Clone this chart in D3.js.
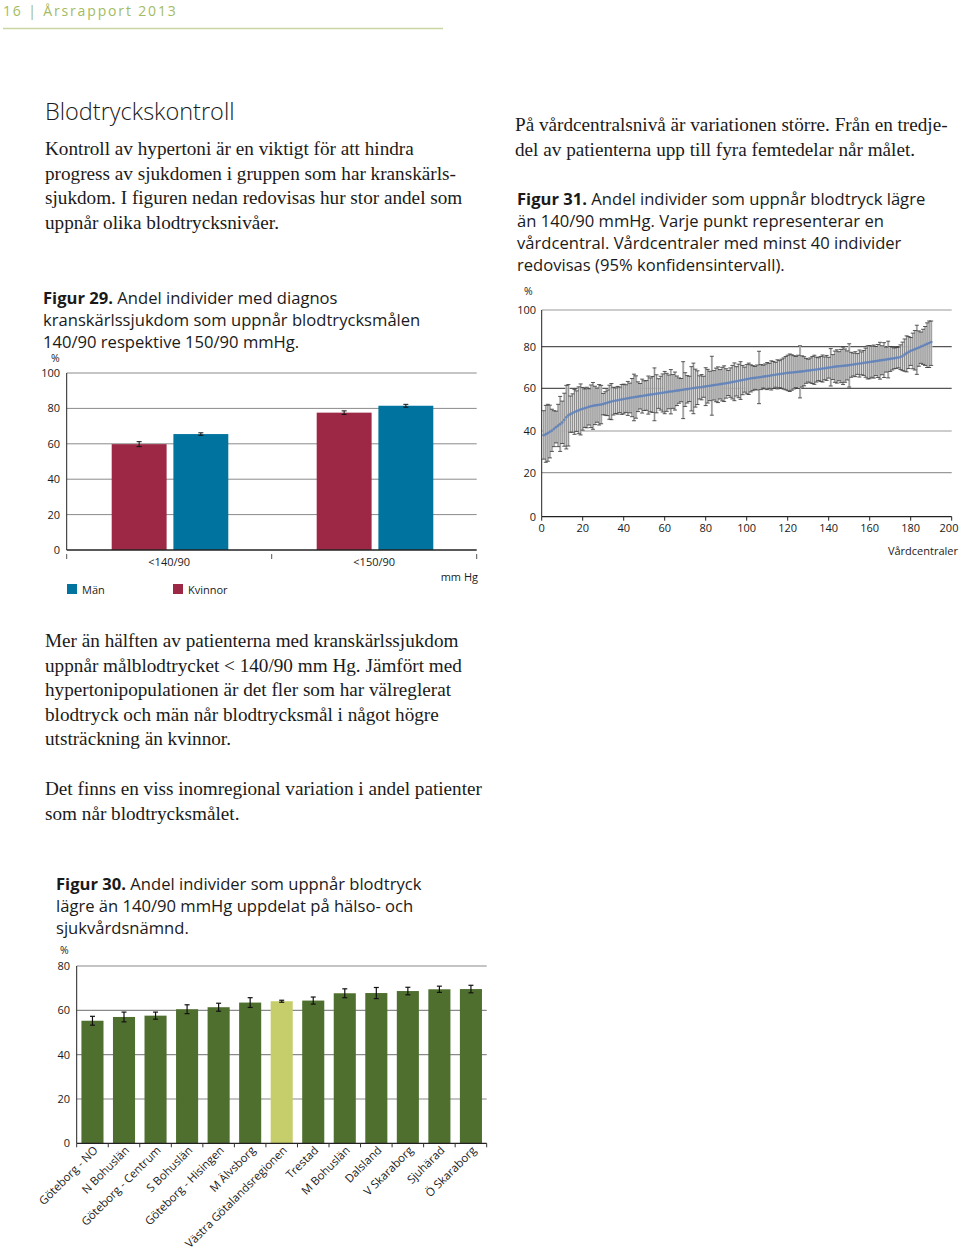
<!DOCTYPE html>
<html><head><meta charset="utf-8">
<script src="https://cdn.jsdelivr.net/npm/d3@7"></script>
<style>
body{margin:0;background:#fff}
svg{display:block}
.serif{font-family:"Liberation Serif","DejaVu Serif",serif;font-size:19.2px;fill:#1a1a1a}
.sans{font-family:"Open Sans","Noto Sans",sans-serif;fill:#1a1a1a}
</style></head><body>
<svg id="c" width="960" height="1249"></svg>
<script>
// ---------- DATA ----------
const fig29Groups = ["<140/90", "<150/90"];
const fig29Series = ["Kvinnor", "Män"];
const fig29Kvinnor = [59.8, 77.6];
const fig29KvinnorErr = [1.4, 1.0];
const fig29Man = [65.5, 81.5];
const fig29ManErr = [0.7, 0.8];
const fig29Ticks = [0, 20, 40, 60, 80, 100];

const fig30Regions = ["Göteborg - NO", "N Bohuslän", "Göteborg - Centrum", "S Bohuslän", "Göteborg - Hisingen", "M Älvsborg", "Västra Götalandsregionen", "Trestad", "M Bohuslän", "Dalsland", "V Skaraborg", "Sjuhärad", "Ö Skaraborg"];
const fig30Values = [55.3, 57.0, 57.6, 60.5, 61.4, 63.5, 64.1, 64.4, 67.7, 67.8, 68.7, 69.5, 69.6];
const fig30Err = [2.0, 2.2, 1.6, 2.0, 1.8, 2.2, 0.45, 1.6, 2.0, 2.5, 1.7, 1.4, 1.7];
const fig30Highlight = "Västra Götalandsregionen";
const fig30Ticks = [0, 20, 40, 60, 80];

const fig31Value = [
38.0,38.5,39.0,39.6,40.2,41.0,41.8,42.5,43.2,44.0,
45.2,46.4,47.3,47.9,48.4,48.9,49.3,49.7,50.1,50.4,
50.7,51.0,51.3,51.6,51.8,52.0,52.1,52.3,52.4,52.6,
52.9,53.2,53.5,53.8,54.0,54.2,54.4,54.6,54.8,55.0,
55.2,55.3,55.5,55.7,55.8,56.0,56.1,56.3,56.4,56.6,
56.7,56.9,57.0,57.2,57.3,57.5,57.6,57.8,57.9,58.1,
58.2,58.4,58.5,58.6,58.8,58.9,59.0,59.2,59.3,59.5,
59.6,59.8,59.9,60.1,60.2,60.4,60.5,60.6,60.8,60.9,
61.1,61.2,61.4,61.5,61.7,61.8,62.0,62.1,62.3,62.4,
62.6,62.8,63.0,63.2,63.4,63.6,63.8,64.0,64.2,64.4,
64.6,64.8,64.9,65.0,65.2,65.3,65.4,65.6,65.7,65.9,
66.0,66.2,66.4,66.5,66.7,66.8,67.0,67.1,67.3,67.4,
67.5,67.6,67.7,67.8,67.9,68.0,68.1,68.2,68.4,68.5,
68.6,68.8,68.9,69.0,69.2,69.3,69.5,69.6,69.8,69.9,
70.1,70.2,70.4,70.5,70.6,70.7,70.8,70.9,71.0,71.1,
71.3,71.4,71.6,71.7,71.9,72.0,72.2,72.3,72.5,72.6,
72.8,72.9,73.1,73.2,73.4,73.5,73.7,73.8,74.0,74.1,
74.3,74.4,74.6,74.8,75.0,75.5,76.2,76.9,77.5,78.0,
78.4,78.8,79.2,79.6,80.0,80.5,81.0,81.5,82.0,82.5];
const fig31Margin = [
11.5,13.5,13.5,12.5,10,8.5,7.5,10,13,10,
12.5,15,14.5,8.5,9,10.5,9.5,11,12,10,
9,9.5,8.5,10,11,9,8,9.5,9,5,
5.5,6,8,8.5,6.5,6,6.5,6,7,7,
6.5,8,7,9,11,10,7,6,8,7,
7,9,8,8.5,12.5,9,7,8,9,10,
9,8,10.5,8,9,7,6,5.5,13.5,8,
6.5,6,10.5,12,9,8,5.5,6,5,9,
8,7,14,7,8,8.5,7,8,8.5,7,
6,7,8,9,7,8,9,7,6,7,
7.5,6.5,6,5.5,6,12.5,6,5.5,6,6.5,
6,7,6.5,6,7,6.5,7,7.5,8,8.5,
9,8.5,8,7.5,8,12.5,7.5,7,6,5.5,
6,6.5,7,6,5.5,6,6.5,5.5,6,5,
9,6,7.5,8,7,8,9,8,7,10.5,
6,5.5,6,5,6.5,5.5,6,7,8,8,
7.5,8,7,8,9,7,8.5,6,9,6,
5.5,5,5,5,6,7,8,9,8,7,
9,10,12.5,9,8,9,10,11.5,12,11.5];
const fig31YTicks = [0, 20, 40, 60, 80, 100];
const fig31XTicks = [0, 20, 40, 60, 80, 100, 120, 140, 160, 180, 200];

// ---------- COLORS ----------
const RED = "#9c2846", BLUE = "#00739f", GREEN = "#4f6f2f", LIGHT = "#c6ce6b";

const svg = d3.select("#c");
svg.append("rect").attr("width", 960).attr("height", 1249).attr("fill", "#fff");

// ---------- TEXT ----------
function lines(cls, x, y0, lh, arr, size) {
  const t = svg.append("g");
  arr.forEach((s, i) => {
    const el = t.append("text").attr("class", cls).attr("x", x).attr("y", y0 + i * lh);
    if (size) el.style("font-size", size + "px");
    if (Array.isArray(s)) {
      el.append("tspan").style("font-weight", "bold").text(s[0]);
      el.append("tspan").text(s[1]);
    } else el.text(s);
  });
}
// header
svg.append("text").attr("x", 3).attr("y", 16).attr("class", "sans")
  .style("font-size", "14px").style("letter-spacing", "1.85px").style("fill", "#a3bb62")
  .text("16 | Årsrapport 2013");
svg.append("line").attr("x1", 3).attr("x2", 443).attr("y1", 28.5).attr("y2", 28.5)
  .attr("stroke", "#c9d6a0").attr("stroke-width", 1.5);

svg.append("text").attr("x", 45).attr("y", 120).attr("class", "sans")
  .style("font-size", "23.5px").style("font-weight", 300).text("Blodtryckskontroll");

lines("serif", 45, 155, 24.5, [
  "Kontroll av hypertoni är en viktigt för att hindra",
  "progress av sjukdomen i gruppen som har kranskärls-",
  "sjukdom. I figuren nedan redovisas hur stor andel som",
  "uppnår olika blodtrycksnivåer."]);
lines("serif", 515, 131, 24.5, [
  "På vårdcentralsnivå är variationen större. Från en tredje-",
  "del av patienterna upp till fyra femtedelar når målet."]);
lines("serif", 45, 647, 24.6, [
  "Mer än hälften av patienterna med kranskärlssjukdom",
  "uppnår målblodtrycket < 140/90 mm Hg. Jämfört med",
  "hypertonipopulationen är det fler som har välreglerat",
  "blodtryck och män når blodtrycksmål i något högre",
  "utsträckning än kvinnor."]);
lines("serif", 45, 795, 24.6, [
  "Det finns en viss inomregional variation i andel patienter",
  "som når blodtrycksmålet."]);

lines("sans", 43, 303.5, 22, [
  ["Figur 29.", " Andel individer med diagnos"],
  "kranskärlssjukdom som uppnår blodtrycksmålen",
  "140/90 respektive 150/90 mmHg."], 16.6);
lines("sans", 517, 204.5, 22, [
  ["Figur 31.", " Andel individer som uppnår blodtryck lägre"],
  "än 140/90 mmHg. Varje punkt representerar en",
  "vårdcentral. Vårdcentraler med minst 40 individer",
  "redovisas (95% konfidensintervall)."], 16.6);
lines("sans", 56, 889.5, 22, [
  ["Figur 30.", " Andel individer som uppnår blodtryck"],
  "lägre än 140/90 mmHg uppdelat på hälso- och",
  "sjukvårdsnämnd."], 16.6);

function small(x, y, s, anchor, size) {
  return svg.append("text").attr("class", "sans").attr("x", x).attr("y", y)
    .attr("text-anchor", anchor || "start").style("font-size", (size || 11) + "px").text(s);
}

// ---------- FIGURE 29 ----------
{
  const L = 66.7, R = 476.7, y = d3.scaleLinear().domain([0, 100]).range([550, 373]);
  const x0 = d3.scaleBand().domain(fig29Groups).range([L, R]);
  const xi = d3.scaleBand().domain(fig29Series).range([45, 161.6]).paddingInner(0.11);
  const g = svg.append("g");
  g.selectAll(".gl").data(fig29Ticks.filter(d => d > 0)).join("line")
    .attr("x1", L).attr("x2", R).attr("y1", d => y(d)).attr("y2", d => y(d))
    .attr("stroke", "#8a8a8a").attr("stroke-width", 1);
  fig29Ticks.forEach(t => small(60, y(t) + 4, t, "end"));
  small(51, 362, "%", "start", 10.5);
  const rows = [];
  fig29Groups.forEach((gr, i) => {
    rows.push({g: gr, s: "Kvinnor", v: fig29Kvinnor[i], e: fig29KvinnorErr[i], c: RED});
    rows.push({g: gr, s: "Män", v: fig29Man[i], e: fig29ManErr[i], c: BLUE});
  });
  g.selectAll(".b").data(rows).join("rect")
    .attr("x", d => x0(d.g) + xi(d.s)).attr("width", xi.bandwidth())
    .attr("y", d => y(d.v)).attr("height", d => y(0) - y(d.v)).attr("fill", d => d.c);
  rows.forEach(d => {
    const cx = x0(d.g) + xi(d.s) + xi.bandwidth() / 2;
    g.append("line").attr("x1", cx).attr("x2", cx).attr("y1", y(d.v - d.e)).attr("y2", y(d.v + d.e)).attr("stroke", "#111");
    [d.v - d.e, d.v + d.e].forEach(v => g.append("line").attr("x1", cx - 2.5).attr("x2", cx + 2.5)
      .attr("y1", y(v)).attr("y2", y(v)).attr("stroke", "#111"));
  });
  g.append("line").attr("x1", L).attr("x2", L).attr("y1", y(100)).attr("y2", y(0)).attr("stroke", "#222");
  g.append("line").attr("x1", L).attr("x2", R).attr("y1", y(0)).attr("y2", y(0)).attr("stroke", "#222").attr("stroke-width", 1.3);
  fig29Groups.map(d => x0(d)).concat([R]).forEach(xx =>
    g.append("line").attr("x1", xx).attr("x2", xx).attr("y1", 554).attr("y2", 559).attr("stroke", "#555"));
  fig29Groups.forEach(gr => small(x0(gr) + x0.bandwidth() / 2, 566, gr, "middle"));
  small(478, 581, "mm Hg", "end");
  g.append("rect").attr("x", 67).attr("y", 584).attr("width", 10).attr("height", 10).attr("fill", BLUE);
  small(82, 593.5, "Män");
  g.append("rect").attr("x", 173).attr("y", 584).attr("width", 10).attr("height", 10).attr("fill", RED);
  small(188, 593.5, "Kvinnor");
}

// ---------- FIGURE 31 ----------
{
  const L = 541.7, R = 951.7;
  const x = d3.scaleLinear().domain([0, 200]).range([L, R]);
  const y = d3.scaleLinear().domain(fig31YTicks).range([516.7, 472.7, 431, 388.3, 346.7, 310]);
  const g = svg.append("g");
  g.selectAll(".gl").data(fig31YTicks.filter(d => d > 0)).join("line")
    .attr("x1", L).attr("x2", R).attr("y1", d => y(d)).attr("y2", d => y(d))
    .attr("stroke", d => (d === 60 || d === 80) ? "#555" : "#9a9a9a").attr("stroke-width", 1.2);
  fig31YTicks.forEach(t => small(536, y(t) + 4, t, "end"));
  small(524, 295, "%", "start", 10.5);
  const pts = fig31Value.map((v, i) => ({i: i + 1, v, lo: v - fig31Margin[i], hi: Math.min(100, v + fig31Margin[i])}));
  const step = x(1) - x(0);
  g.selectAll(".band").data(pts).join("rect")
    .attr("x", d => x(d.i) - step / 2).attr("width", step + 0.2)
    .attr("y", d => y(d.hi)).attr("height", d => y(d.lo) - y(d.hi)).attr("fill", "#d2d2d2");
  g.selectAll(".eb").data(pts).join("line")
    .attr("x1", d => x(d.i)).attr("x2", d => x(d.i)).attr("y1", d => y(d.lo)).attr("y2", d => y(d.hi))
    .attr("stroke", "#7a7a7a").attr("stroke-width", 0.8);
  ["lo", "hi"].forEach(k => g.selectAll(".cap" + k).data(pts).join("line")
    .attr("x1", d => x(d.i) - 2).attr("x2", d => x(d.i) + 2).attr("y1", d => y(d[k])).attr("y2", d => y(d[k]))
    .attr("stroke", "#333").attr("stroke-width", 0.8));
  g.selectAll(".pt").data(pts).join("circle")
    .attr("cx", d => x(d.i)).attr("cy", d => y(d.v)).attr("r", 1.35).attr("fill", "#6585ba");
  g.append("line").attr("x1", L).attr("x2", L).attr("y1", y(100)).attr("y2", y(0)).attr("stroke", "#222");
  g.append("line").attr("x1", L).attr("x2", R).attr("y1", y(0)).attr("y2", y(0)).attr("stroke", "#222").attr("stroke-width", 1.2);
  fig31XTicks.forEach(t => {
    g.append("line").attr("x1", x(t)).attr("x2", x(t)).attr("y1", y(0)).attr("y2", y(0) + 4).attr("stroke", "#222");
    small(Math.min(x(t), 949), 532, t, "middle");
  });
  small(958, 555, "Vårdcentraler", "end");
}

// ---------- FIGURE 30 ----------
{
  const L = 76.7, R = 486.7;
  const x = d3.scaleBand().domain(fig30Regions).range([L, R]).paddingInner(0.3).paddingOuter(0.15);
  const y = d3.scaleLinear().domain([0, 80]).range([1143.3, 966]);
  const g = svg.append("g");
  g.selectAll(".gl").data(fig30Ticks.filter(d => d > 0)).join("line")
    .attr("x1", L).attr("x2", R).attr("y1", d => y(d)).attr("y2", d => y(d))
    .attr("stroke", "#8a8a8a").attr("stroke-width", 1.2);
  fig30Ticks.forEach(t => small(70, y(t) + 4, t, "end"));
  small(60, 954, "%", "start", 10.5);
  const rows = fig30Regions.map((r, i) => ({r, v: fig30Values[i], e: fig30Err[i]}));
  g.selectAll(".b").data(rows).join("rect")
    .attr("x", d => x(d.r)).attr("width", x.bandwidth())
    .attr("y", d => y(d.v)).attr("height", d => y(0) - y(d.v))
    .attr("fill", d => d.r === fig30Highlight ? LIGHT : GREEN);
  rows.forEach(d => {
    const cx = x(d.r) + x.bandwidth() / 2;
    g.append("line").attr("x1", cx).attr("x2", cx).attr("y1", y(d.v - d.e)).attr("y2", y(d.v + d.e)).attr("stroke", "#111").attr("stroke-width", 1.2);
    [d.v - d.e, d.v + d.e].forEach(v => g.append("line").attr("x1", cx - 2.5).attr("x2", cx + 2.5)
      .attr("y1", y(v)).attr("y2", y(v)).attr("stroke", "#111").attr("stroke-width", 1.2));
  });
  g.append("line").attr("x1", L).attr("x2", L).attr("y1", y(80)).attr("y2", y(0)).attr("stroke", "#222");
  g.append("line").attr("x1", L).attr("x2", R).attr("y1", y(0)).attr("y2", y(0)).attr("stroke", "#222").attr("stroke-width", 1.3);
  const st = x.step();
  d3.range(fig30Regions.length + 1).forEach(i => {
    const xx = L + i * st;
    g.append("line").attr("x1", xx).attr("x2", xx).attr("y1", y(0)).attr("y2", y(0) + 4).attr("stroke", "#333");
  });
  rows.forEach(d => {
    const cx = x(d.r) + x.bandwidth() / 2 + 6;
    svg.append("text").attr("class", "sans").attr("text-anchor", "end")
      .attr("transform", `translate(${cx},${1151}) rotate(-45)`)
      .style("font-size", "11.4px").text(d.r);
  });
}
</script></body></html>
